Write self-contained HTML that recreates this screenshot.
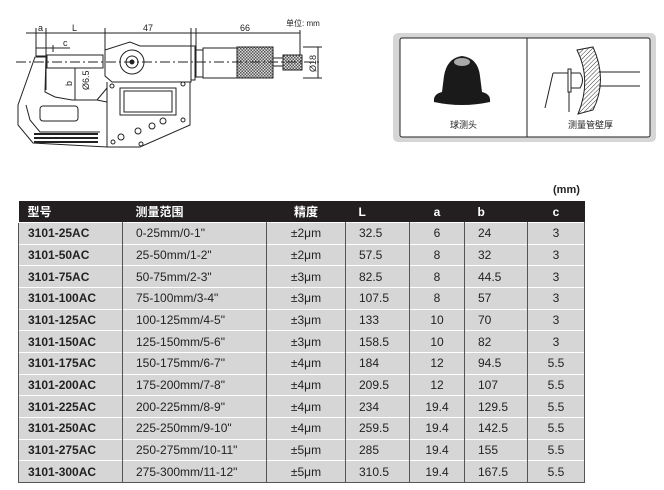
<!DOCTYPE html>
<html><head><meta charset="utf-8"><style>
body{margin:0;width:664px;height:490px;background:#fff;position:relative;overflow:hidden;font-family:"Liberation Sans","Noto Sans CJK SC",sans-serif;}
table{position:absolute;left:18px;top:201px;border-collapse:collapse;table-layout:fixed;font-size:12px;}
td,th{height:20.67px;padding:0;border-top:1px solid #fff;border-left:1px solid #555;border-right:1px solid #555;background:#d6d6d6;color:#222;white-space:nowrap;}
th{background:#231f20;color:#fff;font-weight:bold;text-align:left;height:21px;border:none;}
td.m{font-weight:bold;padding-left:9px;}
.l{padding-left:13px;}
.c{text-align:center;}
tr:last-child td{border-bottom:1px solid #555;}
.mm{position:absolute;left:553px;top:184px;font-size:11px;font-weight:bold;color:#222;}
</style></head><body>
<svg width="664" height="180" style="position:absolute;left:0;top:0" font-family="Liberation Sans, Noto Sans CJK SC, sans-serif">
<defs>
<pattern id="k" width="3" height="3" patternUnits="userSpaceOnUse"><rect width="3" height="3" fill="#ddd"/><rect width="1.5" height="1.5" fill="#555"/><rect x="1.5" y="1.5" width="1.5" height="1.5" fill="#555"/></pattern>
<pattern id="h" width="3" height="3" patternUnits="userSpaceOnUse" patternTransform="rotate(45)"><rect width="3" height="3" fill="#fff"/><line x1="0" y1="0" x2="0" y2="3" stroke="#333" stroke-width="1"/></pattern>
</defs>
<g stroke="#222" fill="none" stroke-width="1">
<line x1="26" y1="33" x2="300" y2="33"/><line x1="36" y1="28" x2="36" y2="56"/><line x1="46" y1="28" x2="46" y2="90"/>
<line x1="105" y1="28" x2="105" y2="50"/><line x1="191" y1="28" x2="191" y2="48"/><line x1="196" y1="28" x2="196" y2="50"/>
<line x1="300" y1="30" x2="300" y2="55"/>
<line x1="36" y1="48" x2="70" y2="48"/><line x1="53" y1="45" x2="53" y2="52"/>
<line x1="16" y1="62" x2="322" y2="62" stroke-dasharray="10,3,2,3"/>
<line x1="75" y1="68" x2="75" y2="100"/>
<line x1="89" y1="58" x2="89" y2="66"/>
<line x1="318" y1="47" x2="318" y2="78"/><line x1="303" y1="47" x2="322" y2="47"/><line x1="303" y1="78" x2="322" y2="78"/>
<!-- frame -->
<path d="M35 57 L18 105 L18 125 L33 143 L107 147 L107 102 L97 100 L72 100 L55 97 L45 92 L46 57 Z"/>
<path d="M26 105 L30 120 L40 132 L100 132"/>
<rect x="40" y="106" width="38" height="15" rx="3"/>
<line x1="36" y1="56" x2="46" y2="56"/><line x1="53" y1="57" x2="53" y2="67" stroke-width="2.5"/>
<rect x="47" y="55" width="56" height="13" fill="#fff"/>
<line x1="34" y1="134" x2="98" y2="134" stroke-width="2"/><line x1="34" y1="138" x2="98" y2="138" stroke-width="2"/><line x1="34" y1="142" x2="98" y2="142" stroke-width="2"/>
<!-- body -->
<path d="M105 50 L105 76 L112 82 L191 82 L191 46 L140 46 L130 42 Z" fill="#fff"/>
<path d="M107 82 L107 147 L140 147 L190 125 L190 82"/>
<path d="M97 100 L107 88"/>
<rect x="120" y="88" width="56" height="27"/><rect x="124" y="91" width="48" height="21"/>
<circle cx="132" cy="62" r="12" fill="#fff"/><circle cx="132" cy="62" r="6"/><circle cx="132" cy="62" r="2" fill="#222"/>
<circle cx="121" cy="137" r="3"/><circle cx="138" cy="131" r="3"/><circle cx="152" cy="126" r="3"/><circle cx="163" cy="121" r="3"/>
<circle cx="112" cy="86" r="2"/><circle cx="183" cy="84" r="2"/><circle cx="183" cy="120" r="2"/><circle cx="113" cy="142" r="2"/><circle cx="141" cy="144" r="2"/>
<rect x="191" y="46" width="4" height="34" fill="#fff"/>
<rect x="196" y="50" width="7" height="27" fill="#fff"/>
<rect x="203" y="48" width="34" height="30" fill="#fff"/>
<rect x="237" y="47" width="36" height="31" fill="url(#k)"/>
<rect x="273" y="58" width="10" height="8" fill="#fff"/>
<rect x="283" y="55" width="19" height="15" fill="url(#k)"/>
<line x1="16" y1="62" x2="322" y2="62" stroke-dasharray="10,3,2,3"/>
</g>
<g font-size="9" fill="#222">
<text x="38" y="31">a</text><text x="72" y="31">L</text><text x="63" y="46">c</text><text x="143" y="31">47</text><text x="240" y="31">66</text>
<text x="286" y="26" font-size="8">单位: mm</text>
<text transform="translate(72,86) rotate(-90)">b</text><text transform="translate(89,90) rotate(-90)">Ø6.5</text>
<text transform="translate(316,72) rotate(-90)">Ø18</text>
</g>
<!-- right panel -->
<rect x="393" y="33" width="263" height="109" rx="5" fill="#d6d6d6"/>
<rect x="400" y="38" width="250" height="99" fill="#fff" stroke="#222" rx="2"/>
<line x1="527" y1="38" x2="527" y2="137" stroke="#222"/>
<path d="M434 102 Q433 94 442 92 L444 76 Q447 58 462 56 Q478 58 480 76 L482 92 Q491 94 490 102 Q462 108 434 102Z" fill="#1a1a1a"/>
<ellipse cx="462" cy="62" rx="8" ry="4" fill="#aaa"/>
<g stroke="#222" fill="none">
<line x1="545" y1="108" x2="553" y2="73"/><line x1="553" y1="73" x2="568" y2="73"/>
<rect x="568" y="69" width="3" height="23" fill="#fff"/><path d="M571 73 L580 73 Q585 80 580 88 L571 88"/>
<path d="M577 50 L593 47 Q608 80 593 110 L578 114 Q592 80 577 50Z" fill="url(#h)"/>
<line x1="569" y1="92" x2="569" y2="112"/>
<line x1="599" y1="72" x2="640" y2="72"/><line x1="599" y1="86" x2="640" y2="86"/>
</g>
<text x="450" y="128" font-size="9" fill="#222">球测头</text>
<text x="568" y="128" font-size="9" fill="#222">测量管壁厚</text>
</svg>
<div class="mm">(mm)</div>
<table>
<colgroup><col style="width:104px"><col style="width:144px"><col style="width:79px"><col style="width:64px"><col style="width:55px"><col style="width:63px"><col style="width:57px"></colgroup>
<tr><th style="padding-left:9px">型号</th><th class="l">测量范围</th><th class="c">精度</th><th class="l">L</th><th class="c">a</th><th class="l">b</th><th class="c">c</th></tr>
<tr><td class="m">3101-25AC</td><td class="l">0-25mm/0-1"</td><td class="c">±2μm</td><td class="l">32.5</td><td class="c">6</td><td class="l">24</td><td class="c">3</td></tr>
<tr><td class="m">3101-50AC</td><td class="l">25-50mm/1-2"</td><td class="c">±2μm</td><td class="l">57.5</td><td class="c">8</td><td class="l">32</td><td class="c">3</td></tr>
<tr><td class="m">3101-75AC</td><td class="l">50-75mm/2-3"</td><td class="c">±3μm</td><td class="l">82.5</td><td class="c">8</td><td class="l">44.5</td><td class="c">3</td></tr>
<tr><td class="m">3101-100AC</td><td class="l">75-100mm/3-4"</td><td class="c">±3μm</td><td class="l">107.5</td><td class="c">8</td><td class="l">57</td><td class="c">3</td></tr>
<tr><td class="m">3101-125AC</td><td class="l">100-125mm/4-5"</td><td class="c">±3μm</td><td class="l">133</td><td class="c">10</td><td class="l">70</td><td class="c">3</td></tr>
<tr><td class="m">3101-150AC</td><td class="l">125-150mm/5-6"</td><td class="c">±3μm</td><td class="l">158.5</td><td class="c">10</td><td class="l">82</td><td class="c">3</td></tr>
<tr><td class="m">3101-175AC</td><td class="l">150-175mm/6-7"</td><td class="c">±4μm</td><td class="l">184</td><td class="c">12</td><td class="l">94.5</td><td class="c">5.5</td></tr>
<tr><td class="m">3101-200AC</td><td class="l">175-200mm/7-8"</td><td class="c">±4μm</td><td class="l">209.5</td><td class="c">12</td><td class="l">107</td><td class="c">5.5</td></tr>
<tr><td class="m">3101-225AC</td><td class="l">200-225mm/8-9"</td><td class="c">±4μm</td><td class="l">234</td><td class="c">19.4</td><td class="l">129.5</td><td class="c">5.5</td></tr>
<tr><td class="m">3101-250AC</td><td class="l">225-250mm/9-10"</td><td class="c">±4μm</td><td class="l">259.5</td><td class="c">19.4</td><td class="l">142.5</td><td class="c">5.5</td></tr>
<tr><td class="m">3101-275AC</td><td class="l">250-275mm/10-11"</td><td class="c">±5μm</td><td class="l">285</td><td class="c">19.4</td><td class="l">155</td><td class="c">5.5</td></tr>
<tr><td class="m">3101-300AC</td><td class="l">275-300mm/11-12"</td><td class="c">±5μm</td><td class="l">310.5</td><td class="c">19.4</td><td class="l">167.5</td><td class="c">5.5</td></tr>
</table>
</body></html>
